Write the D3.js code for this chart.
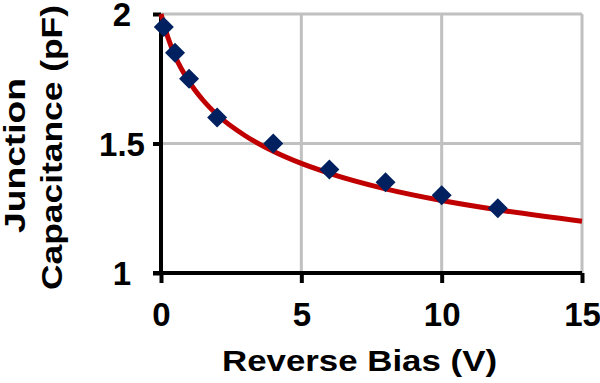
<!DOCTYPE html>
<html><head><meta charset="utf-8">
<script src="https://cdn.jsdelivr.net/npm/d3@7"></script>
<style>body{margin:0;background:#fff}svg{display:block}text{font-family:"Liberation Sans",Arial,sans-serif;font-weight:bold;fill:#000}</style>
</head><body><svg id="c" width="600" height="383"></svg>
<script>
const biasV = [0.1, 0.5, 1, 2, 4, 6, 8, 10, 12];
const capPF = [1.95, 1.85, 1.75, 1.6, 1.5, 1.4, 1.35, 1.3, 1.25];
const fitV = [0, 0.25, 0.5, 1, 1.5, 2, 3, 4, 5, 6, 8, 10, 12, 15];
const fitC = [2.0, 1.908, 1.838, 1.739, 1.667, 1.611, 1.53, 1.47, 1.423, 1.385, 1.325, 1.28, 1.244, 1.2];
const xTicks = [0, 5, 10, 15];
const yTicks = [1, 1.5, 2];

const svg = d3.select("#c");
const x = d3.scaleLinear().domain([0, 15]).range([161, 582]);
const y = d3.scaleLinear().domain([1, 2]).range([273, 14]);

// gridlines
const g = svg.append("g").attr("stroke", "#c0c0c0").attr("stroke-width", 3);
xTicks.filter(d => d > 0).forEach(d => g.append("line").attr("x1", x(d)).attr("x2", x(d)).attr("y1", y(1)).attr("y2", y(2)));
yTicks.filter(d => d > 1).forEach(d => g.append("line").attr("x1", x(0)).attr("x2", x(15)).attr("y1", y(d)).attr("y2", y(d)));

// axes
const xAxis = d3.axisBottom(x).tickValues(xTicks).tickSize(10).tickFormat(d3.format("d"));
const yAxis = d3.axisLeft(y).tickValues(yTicks).tickSize(8).tickFormat(d => d);
const xa = svg.append("g").attr("transform", `translate(0,${y(1)})`).call(xAxis);
const ya = svg.append("g").attr("transform", `translate(${x(0)},0)`).call(yAxis);
[xa, ya].forEach(a => {
  a.select(".domain").attr("stroke", "#000").attr("stroke-width", 4);
  a.selectAll(".tick line").attr("stroke", "#000").attr("stroke-width", 4);
  a.selectAll("text").style("font-size", "33px").style("font-family", '"Liberation Sans",Arial,sans-serif').style("font-weight", "bold").attr("fill", "#000");
});
xa.select(".domain").attr("d", `M${x(0)-8},0H${x(15)}`);
ya.select(".domain").attr("d", `M0,${y(1)}V${y(2)}`);
xa.selectAll(".tick text").attr("y", 0).attr("dy", null).attr("transform", `translate(0,${326 - y(1)})`);
ya.selectAll(".tick text").attr("text-anchor", "middle").attr("x", 122 - x(0)).attr("dy", "0.36em");

// fitted curve
svg.append("path")
  .datum(fitV.map((v, i) => [v, fitC[i]]))
  .attr("fill", "none").attr("stroke", "#c00000").attr("stroke-width", 5)
  .attr("d", d3.line().x(d => x(d[0])).y(d => y(d[1])).curve(d3.curveMonotoneX));

// markers
svg.append("g").selectAll("path").data(biasV.map((v, i) => [v, capPF[i]])).join("path")
  .attr("transform", d => `translate(${x(d[0])},${y(d[1])})`)
  .attr("d", "M0,-10L10,0L0,10L-10,0Z")
  .attr("fill", "#002060");

// titles
svg.append("text").attr("x", 359.5).attr("y", 371).attr("text-anchor", "middle").style("font-size", "29px")
  .attr("textLength", 275).attr("lengthAdjust", "spacingAndGlyphs").text("Reverse Bias (V)");
svg.append("text").attr("transform", "translate(25,155.5) rotate(-90)").attr("text-anchor", "middle").style("font-size", "29px")
  .attr("textLength", 155).attr("lengthAdjust", "spacingAndGlyphs").text("Junction");
svg.append("text").attr("transform", "translate(62,147.5) rotate(-90)").attr("text-anchor", "middle").style("font-size", "29px")
  .attr("textLength", 285).attr("lengthAdjust", "spacingAndGlyphs").text("Capacitance (pF)");
</script></body></html>
